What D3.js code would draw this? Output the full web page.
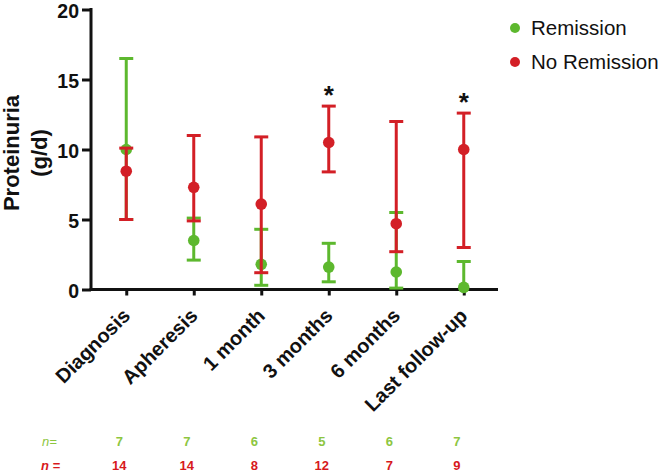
<!DOCTYPE html>
<html>
<head>
<meta charset="utf-8">
<script src="https://cdn.jsdelivr.net/npm/d3@7/dist/d3.min.js"></script>
<style>
  html, body { margin: 0; padding: 0; background: #fff; }
  svg { display: block; }
  text { font-family: "Liberation Sans", Arial, sans-serif; }
</style>
</head>
<body>
<svg id="chart" width="664" height="472"></svg>
<script>
// ---- Data ----
const categories = ["Diagnosis", "Apheresis", "1 month", "3 months", "6 months", "Last follow-up"];
const remissionMean  = [10.0, 3.5, 1.8, 1.6, 1.25, 0.15];
const remissionUpper = [16.5, 5.1, 4.3, 3.3, 5.5, 2.0];
const remissionLower = [5.0, 2.1, 0.3, 0.55, 0.1, 0.0];
const noRemissionMean  = [8.45, 7.3, 6.1, 10.5, 4.7, 10.0];
const noRemissionUpper = [10.1, 11.0, 10.9, 13.1, 12.0, 12.6];
const noRemissionLower = [5.0, 4.9, 1.2, 8.4, 2.7, 3.0];
const significant = [false, false, false, true, false, true];
const nRemission = [7, 7, 6, 5, 6, 7];
const nNoRemission = [14, 14, 8, 12, 7, 9];
const yTicks = [0, 5, 10, 15, 20];
const seriesNames = ["Remission", "No Remission"];

const GREEN = "#5DB82E", RED = "#D31F26";
const GREEN_TXT = "#8DC63F", RED_TXT = "#D7191C";

const svg = d3.select("#chart");
const x = d3.scalePoint().domain(categories).range([92.5, 497.5]).padding(0.5);
const y = d3.scaleLinear().domain([0, 20]).range([289.5, 9.5]);

// ---- Axes ----
const yAxis = svg.append("g").attr("transform", "translate(91,0)")
  .call(d3.axisLeft(y).tickValues(yTicks).tickSize(9).tickPadding(3));
yAxis.select(".domain").attr("stroke", "#111").attr("stroke-width", 3).attr("d", "M0,8V291");
yAxis.selectAll(".tick line").attr("stroke", "#111").attr("stroke-width", 3);
yAxis.selectAll(".tick text").attr("fill", "#111").attr("dy", "0.4em")
  .style("font-size", "19.5px").style("font-weight", "bold")
  .style("font-family", "'Liberation Sans', Arial, sans-serif");

const xAxis = svg.append("g").attr("transform", "translate(0,289.5)")
  .call(d3.axisBottom(x).tickSize(6).tickFormat(""));
xAxis.select(".domain").attr("stroke", "#111").attr("stroke-width", 3).attr("d", "M89.5,0H498");
xAxis.selectAll(".tick line").attr("stroke", "#111").attr("stroke-width", 3);

// x labels rotated
svg.append("g").selectAll("text").data(categories).join("text")
  .attr("transform", d => `translate(${x(d) + 5},317) rotate(-45)`)
  .attr("text-anchor", "end")
  .style("font-size", "20px").style("font-weight", "bold").attr("fill", "#111")
  .text(d => d);

// y title
const yt = svg.append("text").attr("transform", "translate(18.5,153) rotate(-90)")
  .attr("text-anchor", "middle").style("font-size", "22px").style("font-weight", "bold").attr("fill", "#111");
yt.append("tspan").attr("x", 0).attr("dy", 0).text("Proteinuria");
yt.append("tspan").attr("x", 0).attr("dy", 28).text("(g/d)");

// ---- Series ----
function drawSeries(mean, upper, lower, color) {
  const g = svg.append("g");
  const data = categories.map((c, i) => ({c, m: mean[i], u: upper[i], l: lower[i]}));
  g.selectAll("line.v").data(data).join("line")
    .attr("x1", d => x(d.c)).attr("x2", d => x(d.c))
    .attr("y1", d => y(d.u)).attr("y2", d => y(d.l))
    .attr("stroke", color).attr("stroke-width", 3);
  g.selectAll("line.cu").data(data).join("line")
    .attr("x1", d => x(d.c) - 7).attr("x2", d => x(d.c) + 7)
    .attr("y1", d => y(d.u)).attr("y2", d => y(d.u))
    .attr("stroke", color).attr("stroke-width", 3);
  g.selectAll("line.cl").data(data.filter(d => d.l > 0)).join("line")
    .attr("x1", d => x(d.c) - 7).attr("x2", d => x(d.c) + 7)
    .attr("y1", d => y(d.l)).attr("y2", d => y(d.l))
    .attr("stroke", color).attr("stroke-width", 3);
  g.selectAll("circle").data(data).join("circle")
    .attr("cx", d => x(d.c)).attr("cy", d => y(d.m)).attr("r", 5.8)
    .attr("fill", color);
}
drawSeries(remissionMean, remissionUpper, remissionLower, GREEN);
drawSeries(noRemissionMean, noRemissionUpper, noRemissionLower, RED);

// significance asterisks
svg.append("g").selectAll("text").data(categories.map((c, i) => ({c, i})).filter(d => significant[d.i])).join("text")
  .attr("x", d => x(d.c)).attr("y", d => y(noRemissionUpper[d.i]) - 2)
  .attr("text-anchor", "middle").style("font-size", "26px").style("font-weight", "bold").attr("fill", "#111")
  .text("*");

// ---- Legend ----
const legColors = [GREEN, RED];
const leg = svg.append("g");
seriesNames.forEach((s, i) => {
  leg.append("circle").attr("cx", 515).attr("cy", 28 + i * 34).attr("r", 5).attr("fill", legColors[i]);
  leg.append("text").attr("x", 531).attr("y", 28 + i * 34).attr("dy", "0.36em")
    .style("font-size", "20.5px").attr("fill", "#111").text(s);
});

// ---- n rows ----
const nFont = "'Liberation Sans Narrow', 'Liberation Sans', Arial, sans-serif";
svg.append("text").attr("x", 42).attr("y", 446).style("font-family", nFont)
  .style("font-size", "13px").style("font-style", "italic").attr("fill", GREEN_TXT).text("n=");
svg.append("text").attr("x", 41).attr("y", 470).style("font-family", nFont)
  .style("font-size", "13px").style("font-style", "italic").style("font-weight", "bold").attr("fill", RED_TXT).text("n =");
svg.append("g").selectAll("text").data(nRemission).join("text")
  .attr("x", (d, i) => x(categories[i]) - 7).attr("y", 446).attr("text-anchor", "middle")
  .style("font-family", nFont).style("font-size", "13px").style("font-weight", "bold").attr("fill", GREEN_TXT)
  .text(d => d);
svg.append("g").selectAll("text").data(nNoRemission).join("text")
  .attr("x", (d, i) => x(categories[i]) - 7).attr("y", 470).attr("text-anchor", "middle")
  .style("font-family", nFont).style("font-size", "13px").style("font-weight", "bold").attr("fill", RED_TXT)
  .text(d => d);
</script>
</body>
</html>
